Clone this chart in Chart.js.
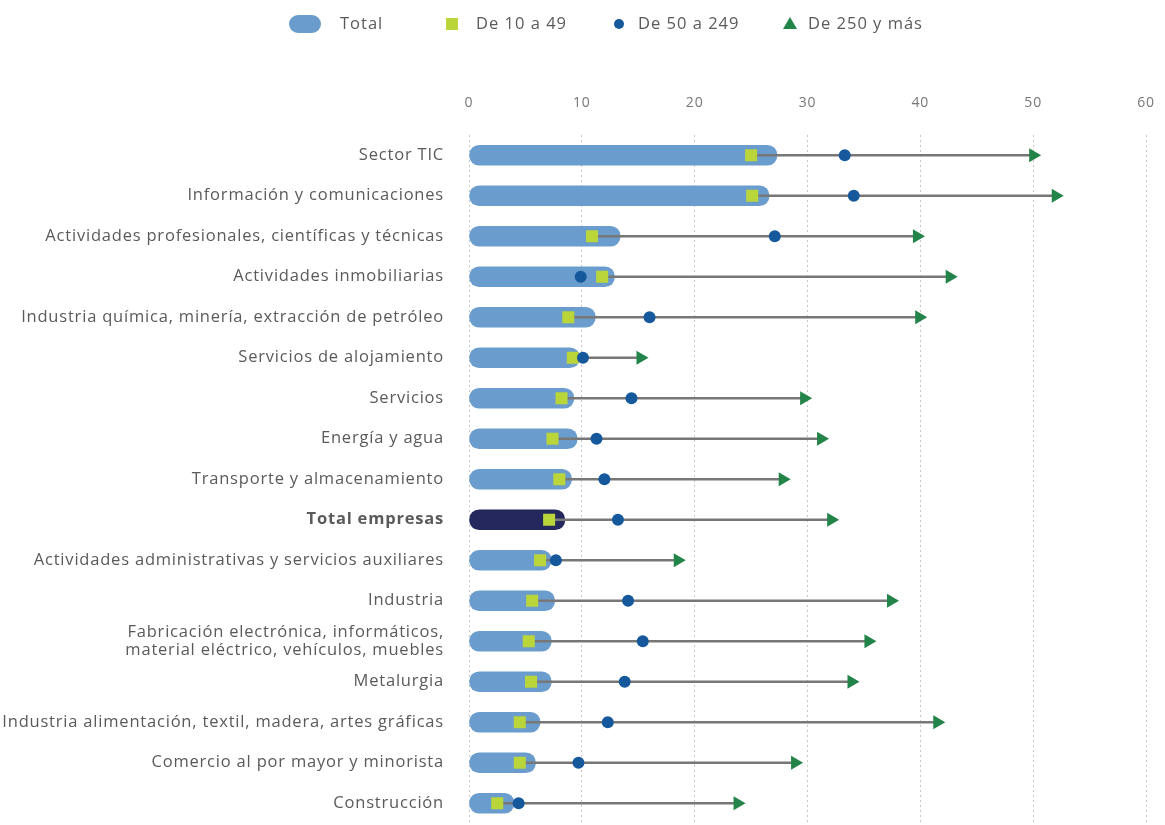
<!DOCTYPE html>
<html lang="es">
<head>
<meta charset="utf-8">
<script src="https://cdn.jsdelivr.net/npm/chart.js@4.4.1/dist/chart.umd.min.js"></script>
<style>
  html, body { margin: 0; padding: 0; background: #fff; overflow: hidden; }
  #wrap { position: relative; width: 1165px; height: 825px; overflow: hidden; font-family: "Open Sans", sans-serif; color: #5a5a5a; }
  #legend { position: absolute; top: 0; left: 0; width: 1165px; height: 50px; font-size: 16.5px; letter-spacing: 1px; }
  #legend .item { position: absolute; top: 12px; line-height: 22px; }
  #legend .sw { position: absolute; }
  #chart { position: absolute; top: 0; left: 0; }
</style>
</head>
<body>
<div id="wrap">
  <canvas id="chart" width="1165" height="832"></canvas>
  <div id="legend">
    <span class="sw" style="left:289px;top:15px;width:32px;height:18px;border-radius:9px;background:#6a9dcd"></span>
    <span class="item" style="left:340px">Total</span>
    <span class="sw" style="left:446px;top:18px;width:12px;height:12px;background:#b9d53a"></span>
    <span class="item" style="left:476px">De 10 a 49</span>
    <span class="sw" style="left:614px;top:19px;width:10px;height:10px;border-radius:50%;background:#15599c"></span>
    <span class="item" style="left:638px">De 50 a 249</span>
    <span class="sw" style="left:783px;top:17px;width:0;height:0;border-left:7px solid transparent;border-right:7px solid transparent;border-bottom:12px solid #228448"></span>
    <span class="item" style="left:808px">De 250 y más</span>
  </div>
</div>
<script>
const sectores = [
  "Sector TIC",
  "Información y comunicaciones",
  "Actividades profesionales, científicas y técnicas",
  "Actividades inmobiliarias",
  "Industria química, minería, extracción de petróleo",
  "Servicios de alojamiento",
  "Servicios",
  "Energía y agua",
  "Transporte y almacenamiento",
  "Total empresas",
  "Actividades administrativas y servicios auxiliares",
  "Industria",
  ["Fabricación electrónica, informáticos,", "material eléctrico, vehículos, muebles"],
  "Metalurgia",
  "Industria alimentación, textil, madera, artes gráficas",
  "Comercio al por mayor y minorista",
  "Construcción"
];

const total     = [27.3, 26.6, 13.4, 12.9, 11.2, 9.8, 9.3, 9.6, 9.1, 8.5, 7.3, 7.6, 7.3, 7.3, 6.3, 5.9, 4.0];
const de10a49   = [25.0, 25.1, 10.9, 11.8, 8.8, 9.2, 8.2, 7.4, 8.0, 7.1, 6.3, 5.6, 5.3, 5.5, 4.5, 4.5, 2.5];
const de50a249  = [33.3, 34.1, 27.1, 9.9, 16.0, 10.1, 14.4, 11.3, 12.0, 13.2, 7.7, 14.1, 15.4, 13.8, 12.3, 9.7, 4.4];
const de250     = [50.0, 52.0, 39.7, 42.6, 39.9, 15.2, 29.7, 31.2, 27.8, 32.1, 18.5, 37.4, 35.4, 33.9, 41.5, 28.9, 23.8];

const xTicks = [0, 10, 20, 30, 40, 50, 60];
const filaTotal = 9;

const azul = "#6a9dcd";
const azulOscuro = "#25285c";

// tramo gris entre la pyme pequeña y la gran empresa
const tramo = de10a49.map((v, i) => [v, de250[i]]);

// textos del canvas algo más espaciados
const espaciado = {
  id: "espaciado",
  beforeDraw: chart => { chart.ctx.letterSpacing = "0.8px"; }
};

new Chart(document.getElementById("chart"), {
  type: "bar",
  plugins: [espaciado],
  data: {
    labels: sectores,
    datasets: [
      {
        label: "Total",
        data: total,
        indexAxis: "y",
        grouped: false,
        order: 5,
        barThickness: 20,
        borderRadius: 10,
        borderSkipped: false,
        backgroundColor: total.map((_, i) => i === filaTotal ? azulOscuro : azul)
      },
      {
        label: "tramo",
        data: tramo,
        indexAxis: "y",
        grouped: false,
        order: 4,
        barThickness: 2,
        backgroundColor: "#777777"
      },
      {
        type: "line",
        label: "De 10 a 49",
        data: de10a49,
        indexAxis: "y",
        order: 3,
        showLine: false,
        pointStyle: "rect",
        pointRadius: 8.5,
        pointBackgroundColor: "#b9d53a",
        pointBorderWidth: 0
      },
      {
        type: "line",
        label: "De 50 a 249",
        data: de50a249,
        indexAxis: "y",
        order: 2,
        showLine: false,
        pointStyle: "circle",
        pointRadius: 6,
        pointBackgroundColor: "#15599c",
        pointBorderWidth: 0
      },
      {
        type: "line",
        label: "De 250 y más",
        data: de250,
        indexAxis: "y",
        order: 1,
        showLine: false,
        pointStyle: "triangle",
        pointRotation: 90,
        pointRadius: 8,
        pointBackgroundColor: "#228448",
        pointBorderWidth: 0
      }
    ]
  },
  options: {
    indexAxis: "y",
    responsive: false,
    animation: false,
    events: [],
    layout: { padding: { top: 60, right: 19, bottom: 0, left: 0 } },
    plugins: {
      legend: { display: false },
      tooltip: { enabled: false }
    },
    scales: {
      x: {
        position: "top",
        min: 0,
        max: 60,
        afterBuildTicks: axis => { axis.ticks = xTicks.map(v => ({ value: v })); },
        afterFit: axis => {
          axis.height = 75;
          axis.paddingLeft = 0;
          axis.paddingRight = 0;
        },
        grid: {
          color: "#c8c8c8",
          lineWidth: 1,
          drawTicks: false
        },
        border: { display: false, dash: [2, 3] },
        ticks: {
          padding: 24,
          color: "#777",
          font: { family: "Open Sans", size: 14 }
        }
      },
      y: {
        offset: true,
        afterFit: axis => {
          axis.width = 469;
          axis.paddingTop = 0;
          axis.paddingBottom = 0;
        },
        border: { display: false },
        grid: { display: false },
        ticks: {
          padding: 17,
          color: "#5a5a5a",
          font: ctx => ({
            family: "Open Sans",
            size: 16.5,
            weight: ctx.index === filaTotal ? "bold" : "normal",
            lineHeight: 1.1
          })
        }
      }
    }
  }
});
</script>
</body>
</html>
